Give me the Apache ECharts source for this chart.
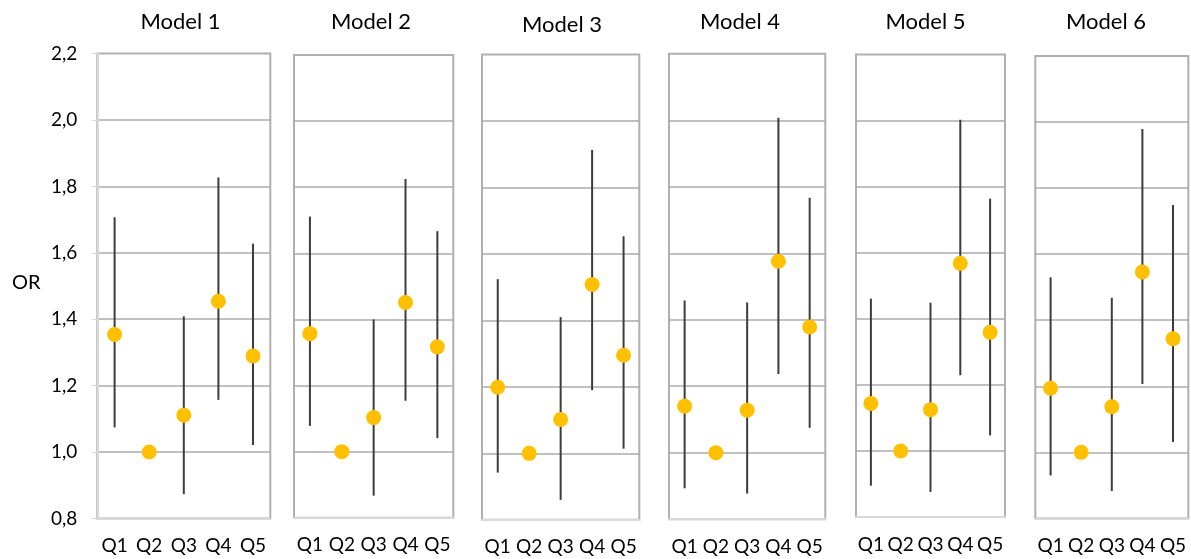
<!DOCTYPE html>
<html><head><meta charset="utf-8">
<script src="https://cdn.jsdelivr.net/npm/echarts@6/dist/echarts.min.js"></script>
<style>html,body{margin:0;padding:0;background:#fff}#c{width:1191px;height:559px}</style>
</head><body><div id="c"></div>
<script>
// ---- data ----
const categories = ['Q1', 'Q2', 'Q3', 'Q4', 'Q5'];
const modelNames = ['Model 1', 'Model 2', 'Model 3', 'Model 4', 'Model 5', 'Model 6'];
const yAxisName = 'OR';
const yMin = 0.8, yMax = 2.2, yStep = 0.2;
const yTickLabels = ['0,8', '1,0', '1,2', '1,4', '1,6', '1,8', '2,0', '2,2'];

const m1OR = [1.354, 1.000, 1.111, 1.454, 1.289];
const m1Lo = [1.074, null, 0.873, 1.157, 1.021];
const m1Hi = [1.707, null, 1.409, 1.827, 1.627];

const m2OR = [1.357, 1.000, 1.103, 1.451, 1.317];
const m2Lo = [1.078, null, 0.867, 1.154, 1.041];
const m2Hi = [1.711, null, 1.400, 1.825, 1.667];

const m3OR = [1.199, 1.000, 1.102, 1.508, 1.295];
const m3Lo = [0.942, null, 0.860, 1.190, 1.014];
const m3Hi = [1.524, null, 1.410, 1.913, 1.653];

const m4OR = [1.140, 1.000, 1.128, 1.576, 1.378];
const m4Lo = [0.893, null, 0.877, 1.237, 1.075];
const m4Hi = [1.458, null, 1.452, 2.008, 1.767];

const m5OR = [1.144, 1.000, 1.125, 1.568, 1.359];
const m5Lo = [0.895, null, 0.876, 1.229, 1.047];
const m5Hi = [1.461, null, 1.449, 2.003, 1.764];

const m6OR = [1.194, 1.000, 1.138, 1.546, 1.344];
const m6Lo = [0.930, null, 0.883, 1.207, 1.031];
const m6Hi = [1.530, null, 1.468, 1.979, 1.749];

const orValues = [m1OR, m2OR, m3OR, m4OR, m5OR, m6OR];
const loValues = [m1Lo, m2Lo, m3Lo, m4Lo, m5Lo, m6Lo];
const hiValues = [m1Hi, m2Hi, m3Hi, m4Hi, m5Hi, m6Hi];

// ---- layout ----
const panelLeft = [97.3, 294, 482, 669, 856, 1035.3];
const panelRight = [270.3, 453.3, 639.3, 825.3, 1005, 1188.3];
const panelTop = [53.6, 54.9, 54.5, 53.8, 54.6, 56];
const panelBottom = [518.4, 517.8, 519.8, 519.2, 517, 518.4];
const titleX = [180.5, 371, 562, 740, 925.5, 1106];
const titleY = [21.7, 21.7, 25, 21.7, 21.7, 21.7];
const FONT = 'Lato, "Open Sans", sans-serif';

const grids = [], xAxes = [], yAxes = [], series = [], graphics = [];
modelNames.forEach((name, i) => {
  grids.push({
    left: panelLeft[i], top: panelTop[i],
    width: panelRight[i] - panelLeft[i], height: panelBottom[i] - panelTop[i],
    show: true, borderColor: '#b0b0b0', borderWidth: 2, backgroundColor: 'transparent'
  });
  xAxes.push({
    type: 'category', gridIndex: i, data: categories, boundaryGap: true,
    axisLine: { show: true, lineStyle: { color: '#d9d9d9', width: 2 } },
    axisTick: { show: false },
    axisLabel: { color: '#000', fontSize: 19, fontFamily: FONT, margin: 18, interval: 0 },
    splitLine: { show: false }
  });
  yAxes.push({
    type: 'value', gridIndex: i, min: yMin, max: yMax, interval: yStep,
    axisLine: { show: i === 0, lineStyle: { color: '#d9d9d9', width: 2 } },
    axisTick: { show: i === 0, length: 6, lineStyle: { color: '#d9d9d9', width: 1 } },
    axisLabel: {
      show: i === 0, color: '#000', fontSize: 19, fontFamily: FONT, margin: 20,
      formatter: v => yTickLabels[Math.round((v - yMin) / yStep)]
    },
    splitLine: { show: true, showMinLine: false, showMaxLine: false, lineStyle: { color: '#ababab', width: 1.5 } }
  });
  const lo = loValues[i], hi = hiValues[i];
  const barData = [];
  categories.forEach((c, j) => { if (lo[j] != null && hi[j] != null) barData.push([j, lo[j], hi[j]]); });
  series.push({
    type: 'custom', xAxisIndex: i, yAxisIndex: i, data: barData, z: 2, silent: true,
    renderItem: (params, api) => {
      const p1 = api.coord([api.value(0), api.value(1)]);
      const p2 = api.coord([api.value(0), api.value(2)]);
      return { type: 'line', shape: { x1: p1[0], y1: p1[1], x2: p2[0], y2: p2[1] },
        style: { stroke: '#3c3c3c', lineWidth: 2 } };
    }
  });
  series.push({
    type: 'scatter', xAxisIndex: i, yAxisIndex: i, data: orValues[i], z: 3,
    symbol: 'circle', symbolSize: 15, itemStyle: { color: '#FFC000', opacity: 1 }, silent: true
  });
  graphics.push({
    type: 'text', x: titleX[i], y: titleY[i],
    style: { text: name, font: '22px ' + FONT, fill: '#000', align: 'center', verticalAlign: 'middle' }
  });
});
graphics.push({
  type: 'text', x: 12, y: 283,
  style: { text: yAxisName, font: '20px ' + FONT, fill: '#000', align: 'left', verticalAlign: 'middle' }
});

const chart = echarts.init(document.getElementById('c'), null, { renderer: 'canvas' });
chart.setOption({
  animation: false,
  backgroundColor: '#fff',
  grid: grids, xAxis: xAxes, yAxis: yAxes, series: series, graphic: graphics
});
</script>
</body></html>
